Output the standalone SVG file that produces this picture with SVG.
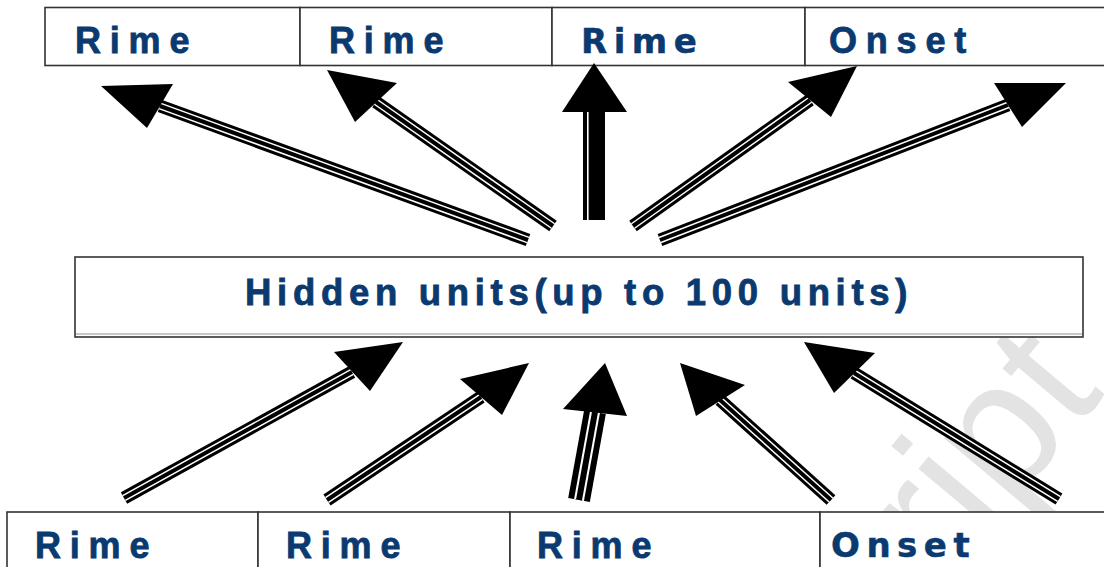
<svg xmlns="http://www.w3.org/2000/svg" width="1104" height="567" viewBox="0 0 1104 567">
<style>
  .cell { fill: #fff; stroke: #333; stroke-width: 1.6; }
  .lbl { font-family: "Liberation Sans", Arial, sans-serif; font-weight: bold; font-size: 36px; letter-spacing: 8.8px; fill: #0a3a70; stroke: #0a3a70; stroke-width: 0.8px; }
  .lbl2 { font-family: "DejaVu Sans", Verdana, sans-serif; font-weight: bold; font-size: 34px; letter-spacing: 6.5px; fill: #0a3a70; stroke: #0a3a70; stroke-width: 0.5px; }
  .hid { font-family: "Liberation Sans", Arial, sans-serif; font-weight: bold; font-size: 36.5px; letter-spacing: 5.7px; fill: #0a3a70; stroke: #0a3a70; stroke-width: 0.8px; }
  .o { fill: none; stroke: #000; stroke-width: 13; }
  .w { fill: none; stroke: #fff; stroke-width: 7; }
  .c { fill: none; stroke: #000; stroke-width: 4; }
  .head { fill: #000; }
  .wm { font-family: "Liberation Sans", Arial, sans-serif; font-size: 180px; fill: #e3e3e3; }
</style>
<rect width="1104" height="567" fill="#fff"/>

<text class="wm" transform="translate(945,585) rotate(-50)">ript</text>

<g id="top-row">
  <g id="top-1"><rect class="cell" x="45" y="7.5" width="255" height="58"/><text class="lbl" x="75" y="53">Rime</text></g>
  <g id="top-2"><rect class="cell" x="300" y="7.5" width="252" height="58"/><text class="lbl" x="329" y="53">Rime</text></g>
  <g id="top-3"><rect class="cell" x="552" y="7.5" width="253" height="58"/><text class="lbl2" x="581" y="53">Rime</text></g>
  <g id="top-4"><rect class="cell" x="805" y="7.5" width="320" height="58"/><text class="lbl" x="829" y="53">Onset</text></g>
</g>

<g id="hidden">
  <rect class="cell" x="75" y="257" width="1008" height="80"/>
  <line x1="76" y1="334" x2="1082" y2="334" stroke="#c8c8c8" stroke-width="2"/>
  <text class="hid" x="245" y="305">Hidden units(up to 100 units)</text>
</g>

<g id="bottom-row">
  <g id="bot-1"><rect class="cell" x="7" y="512" width="251" height="80"/><text class="lbl" x="35" y="558">Rime</text></g>
  <g id="bot-2"><rect class="cell" x="258" y="512" width="252" height="80"/><text class="lbl" x="286" y="558">Rime</text></g>
  <g id="bot-3"><rect class="cell" x="510" y="512" width="310" height="80"/><text class="lbl" x="537" y="558">Rime</text></g>
  <g id="bot-4"><rect class="cell" x="820" y="512" width="320" height="80"/><text class="lbl2" x="831" y="557">Onset</text></g>
</g>

<g id="connectors">
  <g id="a1"><path class="o" d="M528,240 L160,106"/><path class="w" d="M528,240 L160,106"/><path class="c" d="M528,240 L160,106"/><polygon class="head" points="101,86 173,84 147,128"/></g>
  <g id="a2"><path class="o" d="M553,226 L376,102"/><path class="w" d="M553,226 L376,102"/><path class="c" d="M553,226 L376,102"/><polygon class="head" points="327,70 397,83 355,122"/></g>
  <g id="a3"><rect x="583" y="110" width="22" height="110" fill="#000"/><line x1="587.8" y1="112" x2="587.8" y2="221" stroke="#fff" stroke-width="1.6"/><polygon class="head" points="594,63 627,112 562,112"/></g>
  <g id="a4"><path class="o" d="M633,226 L810,100"/><path class="w" d="M633,226 L810,100"/><path class="c" d="M633,226 L810,100"/><polygon class="head" points="857,66 788,82 831,117"/></g>
  <g id="a5"><path class="o" d="M660,240 L1008,105"/><path class="w" d="M660,240 L1008,105"/><path class="c" d="M660,240 L1008,105"/><polygon class="head" points="1066,83 994,83 1022,127"/></g>
  <g id="b1"><path class="o" d="M124,498 L352,372"/><path class="w" d="M124,498 L352,372"/><path class="c" d="M124,498 L352,372"/><polygon class="head" points="403,342 334,352 370,391"/></g>
  <g id="b2"><path class="o" d="M327,500 L481,397"/><path class="w" d="M327,500 L481,397"/><path class="c" d="M327,500 L481,397"/><polygon class="head" points="529,363 460,379 502,415"/></g>
  <g id="b3"><path d="M579,500 L595,412" stroke="#000" stroke-width="22" fill="none"/><path d="M579,500 L595,412" stroke="#fff" stroke-width="10" fill="none"/><path d="M579,500 L595,412" stroke="#000" stroke-width="6" fill="none"/><polygon class="head" points="605,363 563,409 627,416"/></g>
  <g id="b4"><path class="o" d="M831,500 L720,400"/><path class="w" d="M831,500 L720,400"/><path class="c" d="M831,500 L720,400"/><polygon class="head" points="680,363 745,385 696,416"/></g>
  <g id="b5"><path class="o" d="M1059,499 L854,373"/><path class="w" d="M1059,499 L854,373"/><path class="c" d="M1059,499 L854,373"/><polygon class="head" points="804,342 875,353 834,393"/></g>
</g>
</svg>
